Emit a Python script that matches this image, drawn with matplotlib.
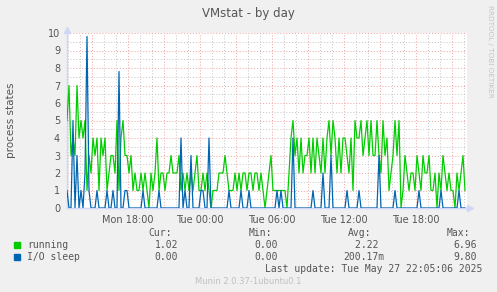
import numpy as np
import matplotlib
matplotlib.use("Agg")
import matplotlib.pyplot as plt
from matplotlib.ticker import MultipleLocator, FuncFormatter

# hours relative to Tue 00:00, one sample every 10 minutes
t_start = -11.1
step_h = 1 / 6

running = [5, 7, 3, 4, 3, 7, 4, 5, 4, 5, 1, 3, 2, 4, 3, 4, 1, 4, 3, 4,
           1, 2, 3, 3, 2, 5, 1, 4, 5, 3, 3, 2, 3, 1, 2, 1, 1, 2, 1, 2,
           1, 0, 2, 1, 2, 4, 1, 2, 2, 1, 2, 2, 3, 2, 2, 2, 3, 1, 2, 1,
           2, 1, 2, 1, 2, 3, 1, 1, 2, 1, 2, 1, 0, 1, 1, 1, 2, 2, 2, 3,
           2, 1, 1, 1, 2, 1, 2, 1, 2, 2, 1, 2, 2, 1, 2, 2, 1, 2, 1, 0,
           1, 2, 3, 1, 1, 1, 1, 1, 1, 1, 0, 2, 4, 5, 3, 4, 2, 4, 2, 3,
           3, 4, 2, 4, 2, 4, 3, 2, 4, 2, 4, 5, 3, 5, 4, 2, 4, 2, 4, 4,
           3, 2, 4, 1, 5, 4, 4, 5, 3, 4, 5, 3, 5, 3, 3, 5, 3, 2, 5, 3,
           4, 1, 2, 3, 5, 3, 5, 0, 1, 3, 2, 1, 2, 2, 1, 3, 2, 1, 3, 2,
           2, 3, 1, 1, 2, 0, 2, 1, 3, 2, 1, 2, 1, 1, 0, 2, 1, 2, 3, 1]

io_sleep = [0.0] * len(running)
io_peaks = {0: 1, 3: 5, 5: 3, 7: 1, 9: 2, 10: 9.8, 11: 1, 15: 1, 20: 1,
            23: 1, 26: 7.8, 29: 1, 30: 1, 38: 1, 46: 1, 57: 4, 59: 1,
            62: 3, 67: 1, 68: 1, 71: 4, 81: 1, 87: 1, 91: 1, 105: 1,
            107: 1, 113: 4, 123: 1, 128: 2, 132: 3, 140: 1, 146: 1,
            156: 3, 164: 1, 176: 1, 187: 1, 196: 1}
for k, v in io_peaks.items():
    io_sleep[k] = v

tick_names = {-6: "Mon 18:00", 0: "Tue 00:00", 6: "Tue 06:00",
              12: "Tue 12:00", 18: "Tue 18:00"}

legend_rows = [("running", "#00CC00", "1.02", "0.00", "2.22 ", "6.96"),
               ("I/O sleep", "#0066B3", "0.00", "0.00", "200.17m", "9.80")]

t = t_start + step_h * np.arange(len(running))

W, H = 497, 292
fig = plt.figure(figsize=(W / 100, H / 100), dpi=100, facecolor="#F0F0F0")
ax = fig.add_axes([67 / W, 1 - 208 / H, 400 / W, 175 / H])
ax.set_facecolor("white")

ax.set_xlim(t_start, t_start + 400 * step_h / 2)
ax.set_ylim(0, 10)

ax.xaxis.set_major_locator(MultipleLocator(3))
ax.xaxis.set_minor_locator(MultipleLocator(1))
ax.yaxis.set_major_locator(MultipleLocator(1))
ax.yaxis.set_minor_locator(MultipleLocator(0.5))
ax.xaxis.set_major_formatter(FuncFormatter(lambda v, p: tick_names.get(int(round(v)), "")))
ax.yaxis.set_major_formatter(FuncFormatter(lambda v, p: "%d" % v))

ax.grid(which="minor", color="#c4c4c4", linestyle=(0, (1, 2)), linewidth=0.7)
ax.grid(which="major", color="#f2a0a0", linestyle=(0, (1, 2)), linewidth=0.7)
ax.set_axisbelow(True)

ax.tick_params(which="both", length=0, colors="#555555", labelsize=7, pad=5)
for s in ("top", "right"):
    ax.spines[s].set_visible(False)
for s in ("left", "bottom"):
    ax.spines[s].set_color("#CFD6F8")
    ax.spines[s].set_linewidth(1)

ax.plot(t, running, color="#00CC00", lw=0.9, zorder=3)
ax.plot(t, io_sleep, color="#0066B3", lw=0.9, zorder=4)

# axis arrows
ax.plot([0], [1.02], marker="^", color="#CFD6F8", ms=4, transform=ax.transAxes, clip_on=False)
ax.plot([1.008], [0], marker=">", color="#CFD6F8", ms=4, transform=ax.transAxes, clip_on=False)

fig.text(11 / W, 1 - 120 / H, "process states", rotation=90, ha="center", va="center",
         color="#555555", fontsize=7.5)
fig.text(248 / W, 1 - 13 / H, "VMstat - by day", ha="center", va="center",
         color="#555555", fontsize=8.5)
fig.text(490 / W, 1 - 5 / H, "RRDTOOL / TOBI OETIKER", rotation=270, ha="center",
         va="top", color="#c4c4c4", fontsize=5.2)

mono = "DejaVu Sans Mono"
for x, label in [(172, "Cur:"), (272, "Min:"), (371, "Avg:"), (470, "Max:")]:
    fig.text(x / W, 1 - 233 / H, label, ha="right", va="center", family=mono,
             color="#555555", fontsize=7)
for i, (name, col, cur, mn, avg, mx) in enumerate(legend_rows):
    y = 1 - (245 + 12 * i) / H
    fig.patches.append(plt.Rectangle((14 / W, y - 3 / H), 6 / W, 6 / H, color=col,
                                     transform=fig.transFigure, figure=fig))
    fig.text(27 / W, y, name, ha="left", va="center", family=mono, color="#555555", fontsize=7)
    for x, val in [(178, cur), (278, mn), (384, avg), (477, mx)]:
        fig.text(x / W, y, val, ha="right", va="center", family=mono,
                 color="#555555", fontsize=7)

fig.text(482 / W, 1 - 268.5 / H, "Last update: Tue May 27 22:05:06 2025", ha="right",
         va="center", family=mono, color="#555555", fontsize=7)
fig.text(248 / W, 1 - 281 / H, "Munin 2.0.37-1ubuntu0.1", ha="center", va="center",
         color="#c0c0c0", fontsize=6)

fig.savefig("out.png", dpi=100, facecolor=fig.get_facecolor())
